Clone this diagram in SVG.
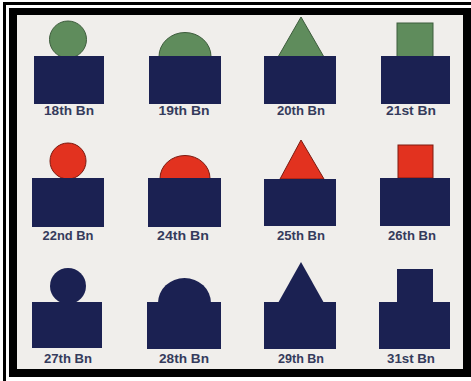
<svg xmlns="http://www.w3.org/2000/svg" width="471" height="381" viewBox="0 0 471 381">
<style>
.base{fill:#1b2152}
.g{fill:#5f8c5c;stroke:#3d5c3c;stroke-width:1}
.r{fill:#e2321f;stroke:#7c1a10;stroke-width:1}
.n{fill:#1b2152}
.lbl{font-family:"Liberation Sans",Arial,sans-serif;font-size:12px;font-weight:bold;fill:#353b5c;text-anchor:middle}
</style>
<rect x="0" y="0" width="471" height="381" fill="#ffffff"/>
<g id="frame">
<rect x="3" y="2" width="468" height="3" fill="#000"/>
<rect x="3" y="2" width="3" height="379" fill="#000"/>
<rect x="9" y="8" width="462" height="369" fill="#000"/>
<rect x="17" y="15" width="446" height="354" fill="#f0eeeb"/>
</g>
<g id="connectors"/>
<g id="bn18">
<circle class="g" cx="68" cy="39.5" r="18.5"/>
<rect class="base" x="34" y="56" width="70" height="48"/>
<text class="lbl" x="69" y="115" textLength="50" lengthAdjust="spacingAndGlyphs">18th Bn</text>
</g>
<g id="bn19">
<path class="g" d="M159,56.5 A26,24 0 0 1 211,56.5 Z"/>
<rect class="base" x="149" y="56" width="72" height="48"/>
<text class="lbl" x="184" y="115" textLength="51" lengthAdjust="spacingAndGlyphs">19th Bn</text>
</g>
<g id="bn20">
<polygon class="g" points="301,17 278,57 324,57"/>
<rect class="base" x="264" y="56" width="72" height="48"/>
<text class="lbl" x="301" y="115" textLength="48" lengthAdjust="spacingAndGlyphs">20th Bn</text>
</g>
<g id="bn21">
<rect class="g" x="397" y="23" width="36" height="34"/>
<rect class="base" x="381" y="56" width="69" height="48"/>
<text class="lbl" x="411" y="115" textLength="50" lengthAdjust="spacingAndGlyphs">21st Bn</text>
</g>
<g id="bn22">
<circle class="r" cx="68" cy="161" r="18"/>
<rect class="base" x="32" y="178" width="72" height="49"/>
<text class="lbl" x="68" y="239.5" textLength="51" lengthAdjust="spacingAndGlyphs">22nd Bn</text>
</g>
<g id="bn24">
<path class="r" d="M160,178.5 A25,23 0 0 1 210,178.5 Z"/>
<rect class="base" x="148" y="178" width="73" height="49"/>
<text class="lbl" x="183" y="239.5" textLength="52" lengthAdjust="spacingAndGlyphs">24th Bn</text>
</g>
<g id="bn25">
<polygon class="r" points="301,140 280,179 324,179"/>
<rect class="base" x="264" y="179" width="72" height="47"/>
<text class="lbl" x="301" y="239.5" textLength="48" lengthAdjust="spacingAndGlyphs">25th Bn</text>
</g>
<g id="bn26">
<rect class="r" x="398" y="145" width="35" height="33"/>
<rect class="base" x="380" y="178" width="70" height="48"/>
<text class="lbl" x="412" y="239.5" textLength="48" lengthAdjust="spacingAndGlyphs">26th Bn</text>
</g>
<g id="bn27">
<circle class="n" cx="68" cy="286" r="18"/>
<rect class="base" x="32" y="302" width="70" height="46"/>
<text class="lbl" x="68" y="363" textLength="48" lengthAdjust="spacingAndGlyphs">27th Bn</text>
</g>
<g id="bn28">
<path class="n" d="M158,303 A26.5,25 0 0 1 211,303 Z"/>
<rect class="base" x="147" y="302" width="74" height="47"/>
<text class="lbl" x="184" y="363" textLength="50" lengthAdjust="spacingAndGlyphs">28th Bn</text>
</g>
<g id="bn29">
<polygon class="n" points="301,262 278,303 324,303"/>
<rect class="base" x="264" y="302" width="72" height="47"/>
<text class="lbl" x="301" y="363" textLength="46" lengthAdjust="spacingAndGlyphs">29th Bn</text>
</g>
<g id="bn31">
<rect class="n" x="397" y="269" width="36" height="34"/>
<rect class="base" x="379" y="302" width="71" height="47"/>
<text class="lbl" x="411" y="363" textLength="48" lengthAdjust="spacingAndGlyphs">31st Bn</text>
</g>
</svg>
